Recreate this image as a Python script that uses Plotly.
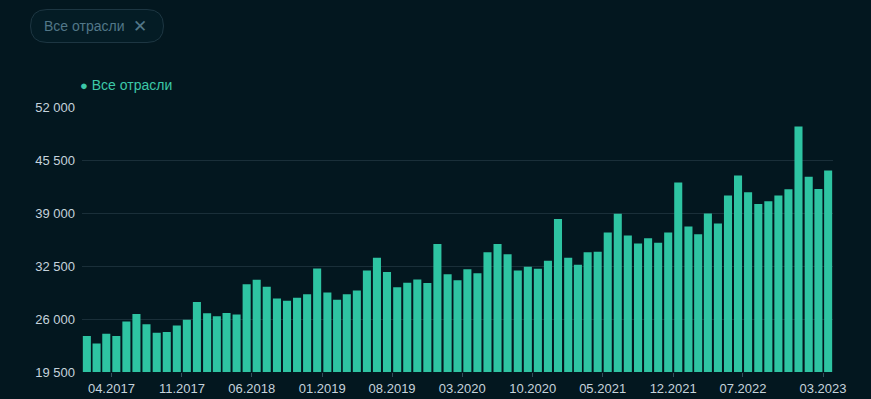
import plotly.graph_objects as go
import pandas as pd

months = pd.date_range("2017-01-01", "2023-03-01", freq="MS").strftime("%Y-%m-%d").tolist()
values = [
    23900, 23000, 24200, 23900, 25700, 26600, 25350, 24300, 24400, 25200,
    25900, 28100, 26700, 26350, 26750, 26550, 30250, 30800, 29950, 28500,
    28250, 28600, 29050, 32200, 29250, 28350, 29050, 29500, 31950, 33500,
    31750, 29900, 30450, 30850, 30400, 35200, 31500, 30750, 32100, 31600,
    34200, 35200, 33950, 31950, 32400, 32150, 33150, 38250, 33500, 32650,
    34200, 34250, 36600, 38900, 36250, 35250, 35900, 35350, 36600, 42750,
    37350, 36400, 38950, 37700, 41150, 43600, 41550, 40100, 40450, 41150,
    41900, 49600, 43450, 41950, 44200,
]
tick_dates = ["2017-04-01", "2017-11-01", "2018-06-01", "2019-01-01", "2019-08-01",
              "2020-03-01", "2020-10-01", "2021-05-01", "2021-12-01", "2022-07-01",
              "2023-03-01"]
y_ticks = [19500, 26000, 32500, 39000, 45500, 52000]
y_tick_text = [f"{v:,}".replace(",", " ") for v in y_ticks]
series_name = "Все отрасли"

BG = "#03171f"
BAR = "#2ec4a2"

W, H = 871, 399
L, R, T, B = 82, 38, 107, 27
pw, ph = W - L - R, H - T - B

def px(x):
    return (x - L) / pw

def py(y):
    return (H - B - y) / ph

fig = go.Figure()
fig.add_trace(go.Bar(
    x=months, y=values, name=series_name,
    marker=dict(color=BAR, line=dict(width=0)),
    xperiod="M1", xperiodalignment="middle",
))

# pill button
x0, x1, y0, y1, r = 30.5, 163.5, 9.5, 42.5, 16.5
path = (
    f"M {px(x0 + r)} {py(y0)} L {px(x1 - r)} {py(y0)} "
    f"Q {px(x1)} {py(y0)} {px(x1)} {py(y0 + r)} "
    f"Q {px(x1)} {py(y1)} {px(x1 - r)} {py(y1)} "
    f"L {px(x0 + r)} {py(y1)} "
    f"Q {px(x0)} {py(y1)} {px(x0)} {py(y0 + r)} "
    f"Q {px(x0)} {py(y0)} {px(x0 + r)} {py(y0)} Z"
)
fig.add_shape(type="path", path=path, xref="paper", yref="paper",
              line=dict(color="#1d3642", width=1), fillcolor="#041c25", layer="above")

fig.add_annotation(x=px(42), y=py(26), xref="paper", yref="paper", xanchor="left",
                   yanchor="middle", text=series_name, showarrow=False,
                   font=dict(size=14, color="#527788", family="Liberation Sans, Arial"))
fig.add_annotation(x=px(140), y=py(26), xref="paper", yref="paper", xanchor="center",
                   yanchor="middle", text="✕", showarrow=False,
                   font=dict(size=17, color="#527788", family="DejaVu Sans"))

# legend-like label
fig.add_annotation(x=px(78), y=py(85), xref="paper", yref="paper", xanchor="left",
                   yanchor="middle",
                   text=f"<span style='font-size:13px'>●</span> {series_name}",
                   showarrow=False,
                   font=dict(size=14, color="#3cc8a8", family="Liberation Sans, Arial"))

fig.update_layout(
    width=W, height=H,
    margin=dict(l=L, r=R, t=T, b=B, autoexpand=False),
    paper_bgcolor=BG, plot_bgcolor=BG,
    showlegend=False,
    bargap=0.17,
    font=dict(family="Liberation Sans, Arial", size=13, color="#c5d3dc"),
    xaxis=dict(
        type="date",
        tickvals=tick_dates,
        tickformat="%m.%Y",
        ticks="outside", ticklen=4, tickcolor="#34505c",
        showgrid=False, zeroline=False, showline=False,
        tickfont=dict(size=13, color="#c5d3dc"),
        automargin=False,
    ),
    yaxis=dict(
        range=[19500, 52000],
        tickvals=y_ticks, ticktext=y_tick_text,
        showgrid=True, gridcolor="#1a2f39", gridwidth=1,
        zeroline=False, showline=False, ticks="",
        tickfont=dict(size=13, color="#c5d3dc"),
        ticklabelstandoff=6,
        automargin=False,
    ),
)

fig.write_html("out.html")
